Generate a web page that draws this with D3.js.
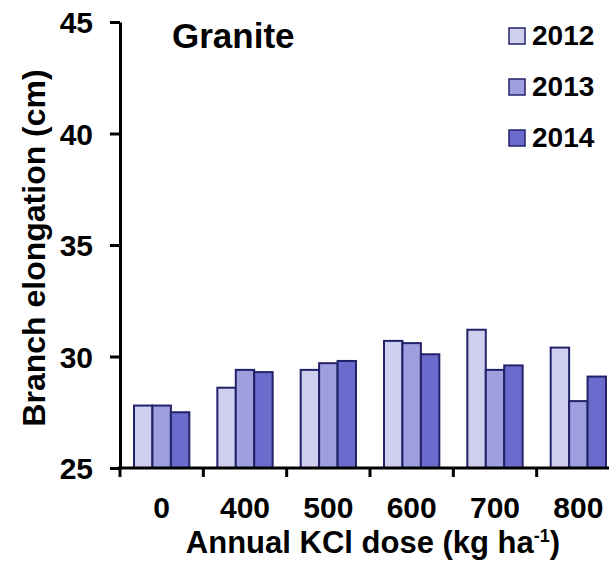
<!DOCTYPE html>
<html>
<head>
<meta charset="utf-8">
<script src="https://cdn.jsdelivr.net/npm/d3@7"></script>
<style>
  html, body { margin: 0; padding: 0; background: #fff; }
  svg { display: block; }
  svg text { font-family: "Liberation Sans", Arial, sans-serif; font-weight: bold; fill: #000; }
</style>
</head>
<body>
<svg id="chart" width="609" height="565"></svg>
<script>
// KCl doses (x categories) and sampling years (series)
const doses = ["0", "400", "500", "600", "700", "800"];
const years = ["2012", "2013", "2014"];

// Branch elongation (cm) per dose, one array per year
const elong2012 = [27.8, 28.6, 29.4, 30.7, 31.2, 30.4];
const elong2013 = [27.8, 29.4, 29.7, 30.6, 29.4, 28.0];
const elong2014 = [27.5, 29.3, 29.8, 30.1, 29.6, 29.1];

const yTicks = [25, 30, 35, 40, 45];
const yearColors = ["#cfcfef", "#9f9fdf", "#6b6bcd"];

const series = [elong2012, elong2013, elong2014];
const rows = doses.map((d, i) => ({
  dose: d,
  values: years.map((y, j) => ({ year: y, value: series[j][i] }))
}));

const svg = d3.select("#chart");

const x0 = d3.scaleBand().domain(doses).range([120, 620]).paddingInner(0).paddingOuter(0);
const x1 = d3.scaleBand().domain(years).range([0, x0.bandwidth()]).paddingInner(0).paddingOuter(0.76);
const y = d3.scaleLinear().domain([25, 45]).range([468, 22]);
const color = d3.scaleOrdinal().domain(years).range(yearColors);

// bars
svg.append("g")
  .selectAll("g")
  .data(rows)
  .join("g")
  .attr("transform", d => `translate(${x0(d.dose)},0)`)
  .selectAll("rect")
  .data(d => d.values)
  .join("rect")
  .attr("x", d => x1(d.year))
  .attr("y", d => y(d.value))
  .attr("width", x1.bandwidth())
  .attr("height", d => y(25) - y(d.value))
  .attr("fill", d => color(d.year))
  .attr("stroke", "#22226a")
  .attr("stroke-width", 2);

// y axis
const yAxis = svg.append("g")
  .attr("transform", "translate(120,0)")
  .call(d3.axisLeft(y).tickValues(yTicks).tickSize(10).tickPadding(17).tickSizeOuter(0))
  .attr("font-family", null)
  .attr("font-size", null);
yAxis.select(".domain").attr("stroke", "#000").attr("stroke-width", 3);
yAxis.selectAll(".tick line").attr("stroke", "#000").attr("stroke-width", 3);
yAxis.selectAll(".tick text")
  .attr("fill", "#000")
  .attr("font-weight", "bold")
  .style("font-weight", "bold")
  .style("font-size", "30px")
  .attr("dy", "0.36em");

// x axis: ticks at category boundaries, labels centred in each band
const xAxisG = svg.append("g").attr("transform", "translate(0,468)");
xAxisG.append("line")
  .attr("x1", 118).attr("x2", 620)
  .attr("stroke", "#000").attr("stroke-width", 3);
const boundaries = doses.map(d => x0(d));
xAxisG.selectAll("line.tk")
  .data(boundaries)
  .join("line")
  .attr("class", "tk")
  .attr("x1", d => d).attr("x2", d => d)
  .attr("y1", 0).attr("y2", 9)
  .attr("stroke", "#000").attr("stroke-width", 3);
xAxisG.selectAll("text")
  .data(doses)
  .join("text")
  .attr("x", d => x0(d) + x0.bandwidth() / 2)
  .attr("y", 50)
  .attr("text-anchor", "middle")
  .style("font-size", "30px")
  .text(d => d);

// axis titles
const xTitle = svg.append("text")
  .attr("x", 373)
  .attr("y", 553)
  .attr("text-anchor", "middle")
  .style("font-size", "31px");
xTitle.append("tspan").text("Annual KCl dose (kg ha");
xTitle.append("tspan").attr("dy", -11).style("font-size", "18px").text("-1");
xTitle.append("tspan").attr("dy", 11).text(")");

svg.append("text")
  .attr("transform", "translate(45,248) rotate(-90)")
  .attr("text-anchor", "middle")
  .style("font-size", "32px")
  .text("Branch elongation (cm)");

// panel title
svg.append("text")
  .attr("x", 172)
  .attr("y", 48)
  .style("font-size", "35px")
  .text("Granite");

// legend
const legend = svg.append("g")
  .selectAll("g")
  .data(years)
  .join("g")
  .attr("transform", (d, i) => `translate(509,${28 + i * 51})`);
legend.append("rect")
  .attr("width", 16).attr("height", 16)
  .attr("fill", d => color(d))
  .attr("stroke", "#22226a")
  .attr("stroke-width", 1.5);
legend.append("text")
  .attr("x", 23)
  .attr("y", 17)
  .style("font-size", "28px")
  .text(d => d);
</script>
</body>
</html>
